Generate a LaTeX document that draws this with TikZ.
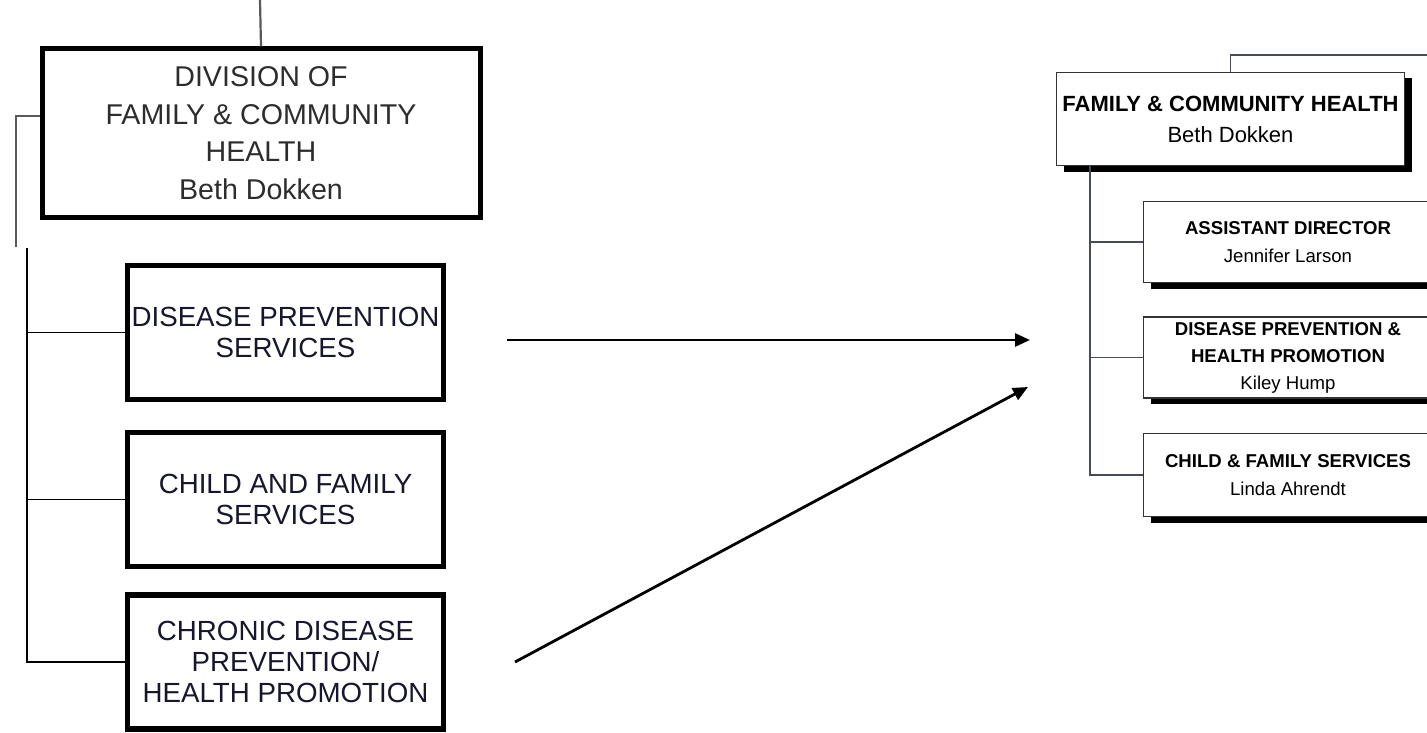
\documentclass[tikz,border=0pt]{standalone}
\usepackage{fontspec}
\setmainfont{Liberation Sans}
\usetikzlibrary{arrows.meta,shadows}
\definecolor{oldtext}{RGB}{22,22,44}
\definecolor{divtext}{RGB}{45,45,45}
\definecolor{newline}{RGB}{70,76,90}

\begin{document}
\begin{tikzpicture}[x=1pt,y=-1pt,
  oldbox/.style={draw, line width=5.5pt, fill=white, align=center, inner sep=0pt,
    minimum width=316pt, minimum height=134pt, text=oldtext,
    font=\fontsize{27.7}{31}\selectfont},
  newbox/.style={draw=black!80, line width=1.5pt, fill=white, align=center, inner sep=0pt,
    minimum width=289pt, minimum height=81pt, font=\fontsize{18.6}{28}\selectfont,
    drop shadow={shadow xshift=7pt, shadow yshift=-6pt, fill=black, opacity=1}},
  oldline/.style={line width=1.8pt},
  newline/.style={draw=newline, line width=1.9pt},
  moveto/.style={line width=2.8pt, -{Triangle[length=15pt,width=13pt]}}]
\clip (0,0) rectangle (1427,733);
\fill[white] (0,0) rectangle (1427,733);

\node[draw, line width=5pt, fill=white, align=center, inner sep=0pt, minimum width=438pt,
  minimum height=168pt, text=divtext, font=\fontsize{28.6}{37.5}\selectfont] (div) at (261,133)
  {DIVISION OF\\FAMILY \& COMMUNITY\\HEALTH\\Beth Dokken};
\node[oldbox] (dps) at (285.5,332.5) {DISEASE PREVENTION\\SERVICES};
\node[oldbox] (cfs) at (285.5,499.5) {CHILD AND FAMILY\\SERVICES};
\node[oldbox] (cdhp) at (285.5,662) {CHRONIC DISEASE\\PREVENTION/\\HEALTH PROMOTION};

\coordinate (ltop) at (260,0);
\coordinate (lcut) at (16,247);
\coordinate (ltrunk) at (27,248);
\draw[oldline, black!65, line width=2.2pt] (ltop) -- (div.north);
\draw[oldline, black!65, line width=2.2pt] ([yshift=17pt]div.west) -| (lcut);
\draw[oldline] (ltrunk) |- (cdhp.west);
\draw[oldline] (ltrunk |- dps.west) -- (dps.west);
\draw[oldline] (ltrunk |- cfs.west) -- (cfs.west);

\node[newbox, minimum width=348pt, minimum height=93pt, font=\fontsize{22}{31}\selectfont] (fch) at (1230.5,119)
  {\textbf{FAMILY \& COMMUNITY HEALTH}\\Beth Dokken};
\node[newbox] (asst) at (1288,242) {\textbf{ASSISTANT DIRECTOR}\\Jennifer Larson};
\node[newbox, font=\fontsize{18.6}{27}\selectfont] (dphp) at (1288,357.5)
  {\textbf{DISEASE PREVENTION \&}\\\textbf{HEALTH PROMOTION}\\Kiley Hump};
\node[newbox, minimum height=83pt] (cafs) at (1288,475) {\textbf{CHILD \& FAMILY SERVICES}\\Linda Ahrendt};

\coordinate (rtop) at (1427,55);
\coordinate (rtrunk) at (1090,0);
\draw[newline] (fch.north) |- (rtop);
\draw[newline] (rtrunk |- fch.south) |- (cafs.west);
\draw[newline] (rtrunk |- asst.west) -- (asst.west);
\draw[newline] (rtrunk |- dphp.west) -- (dphp.west);

\coordinate (from1) at (507,340);
\coordinate (to1) at (1030,340);
\coordinate (from2) at (515,662);
\coordinate (to2) at (1028,387);
\draw[moveto] (from1) -- (to1);
\draw[moveto] (from2) -- (to2);
\end{tikzpicture}
\end{document}
